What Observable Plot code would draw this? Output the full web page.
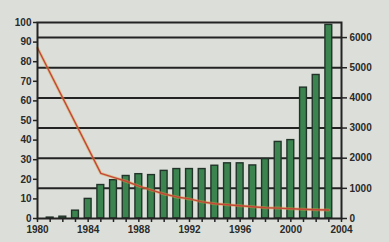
<!DOCTYPE html>
<html>
<head>
<meta charset="utf-8">
<script src="https://cdn.jsdelivr.net/npm/d3@7"></script>
<script src="https://cdn.jsdelivr.net/npm/@observablehq/plot@0.6"></script>
<style>
  html, body { margin: 0; padding: 0; background: #dcdfd9; }
  #chart svg { display: block; }
</style>
</head>
<body>
<div id="chart"></div>
<script>
// Bars (right axis, 0–6500)
const barYears = [1981, 1982, 1983, 1984, 1985, 1986, 1987, 1988, 1989, 1990, 1991, 1992,
                  1993, 1994, 1995, 1996, 1997, 1998, 1999, 2000, 2001, 2002, 2003];
const barValues = [30, 60, 260, 650, 1110, 1270, 1410, 1470, 1440, 1580, 1640, 1640,
                   1640, 1750, 1830, 1830, 1760, 1970, 2540, 2600, 4340, 4760, 6420];

// Line (left axis, 0–100)
const lineYears = [1980, 1985, 1986, 1987, 1988, 1989, 1990, 1991, 1992, 1993, 1994, 1995,
                   1996, 1997, 1998, 1999, 2000, 2001, 2002, 2003];
const lineValues = [87, 23, 21, 19, 16.5, 14.5, 12.5, 11, 10, 8.5, 7.5, 7,
                    6.5, 6, 5.5, 5.3, 5, 4.7, 4.5, 4.3];

// Tick labels
const leftTicks = [0, 10, 20, 30, 40, 50, 60, 70, 80, 90, 100];
const rightTicks = [0, 1000, 2000, 3000, 4000, 5000, 6000];
const xLabelYears = [1980, 1984, 1988, 1992, 1996, 2000, 2004];

const rightMax = 6500;
const leftMax = 100;
const k = rightMax / leftMax;

const bars = barYears.map((year, i) => ({year, value: barValues[i]}));
const line = lineYears.map((year, i) => ({year, value: lineValues[i] * k}));
const allYears = d3.range(1980, 2005);

const ink = "#232323";

const chart = Plot.plot({
  width: 389,
  height: 242,
  marginLeft: 37,
  marginRight: 48,
  marginTop: 22,
  marginBottom: 24,
  style: {
    background: "#dcdfd9",
    fontFamily: "'Liberation Sans', Arial, sans-serif",
    fontSize: "10px",
    fontWeight: "bold",
    color: "#2a2a2a"
  },
  x: {domain: [1980, 2004]},
  y: {domain: [0, rightMax]},
  marks: [
    Plot.ruleY(rightTicks.filter(d => d > 0), {stroke: ink, strokeWidth: 2}),
    Plot.rectY(bars, {
      x1: d => d.year - 0.27, x2: d => d.year + 0.27, y: "value",
      fill: "#3b8450", stroke: "#22332a", strokeWidth: 1.4
    }),
    Plot.line(line, {x: "year", y: "value", stroke: "#d9a03a", strokeWidth: 3, strokeOpacity: 0.5}),
    Plot.line(line, {x: "year", y: "value", stroke: "#c4463a", strokeWidth: 1.4}),
    Plot.frame({stroke: ink, strokeWidth: 2}),
    Plot.axisY({
      anchor: "left",
      ticks: leftTicks.map(d => d * k),
      tickFormat: d => String(Math.round(d / k)),
      tickSize: 4,
      tickPadding: 2,
      stroke: ink,
      strokeWidth: 1.5,
      label: null
    }),
    Plot.axisY({
      anchor: "right",
      ticks: rightTicks,
      tickFormat: d3.format("d"),
      tickSize: 5,
      tickPadding: 3,
      stroke: ink,
      strokeWidth: 1.5,
      label: null
    }),
    Plot.axisX({
      ticks: allYears,
      tickFormat: d => xLabelYears.includes(d) ? String(d) : "",
      tickSize: 4,
      tickPadding: 3,
      stroke: ink,
      strokeWidth: 1.5,
      label: null
    })
  ]
});

document.getElementById("chart").appendChild(chart);
</script>
</body>
</html>
